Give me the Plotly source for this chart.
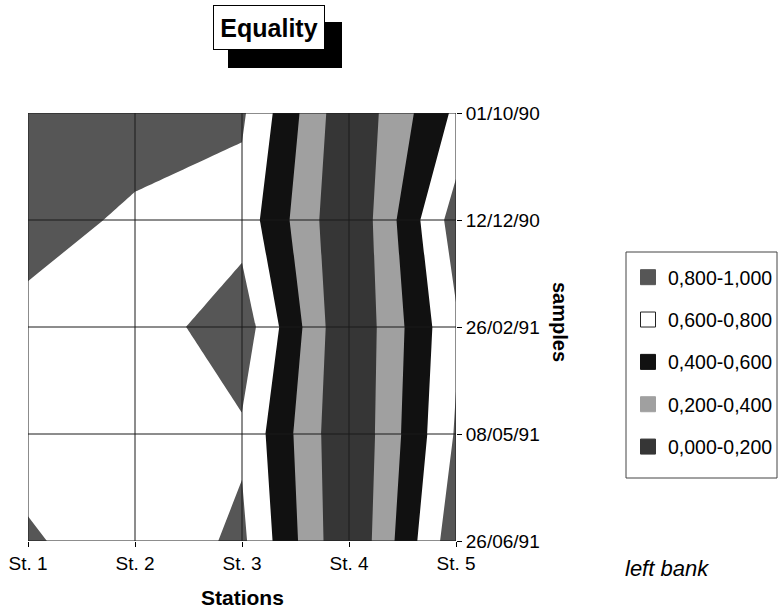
import plotly.graph_objects as go

# Sampling stations (x) and sampling dates (y, first date on top)
stations = ["St. 1", "St. 2", "St. 3", "St. 4", "St. 5"]
dates = ["01/10/90", "12/12/90", "26/02/91", "08/05/91", "26/06/91"]

# Equality index, one row per date, one column per station
eq_0110 = [0.90, 0.94, 0.83, 0.03, 0.64]
eq_1212 = [0.92, 0.75, 0.72, 0.00, 0.90]
eq_2602 = [0.71, 0.69, 0.92, 0.00, 0.77]
eq_0805 = [0.70, 0.70, 0.77, 0.00, 0.82]
eq_2606 = [0.83, 0.66, 0.84, 0.00, 0.94]

# Contour bands (low to high) and their fills
band_edges = [0.0, 0.2, 0.4, 0.6, 0.8, 1.0]
band_labels = ["0,000-0,200", "0,200-0,400", "0,400-0,600", "0,600-0,800", "0,800-1,000"]
band_colors = ["#363636", "#a0a0a0", "#111111", "#ffffff", "#565656"]

z = [eq_0110, eq_1212, eq_2602, eq_0805, eq_2606]
xs = list(range(len(stations)))
ys = list(range(len(dates)))

FONT = "Arial, Liberation Sans, sans-serif"

# plot-area box in pixels, used to place the decorations around it
W_FIG, H_FIG = 779, 609
L, R, T, B = 28, 456, 113, 541


def px(xpix):
    return (xpix - L) / (R - L)


def py(ypix):
    return (B - ypix) / (B - T)


# stepped colorscale: one flat colour per band
lo, hi = band_edges[0], band_edges[-1]
colorscale = []
for i, c in enumerate(band_colors):
    a = (band_edges[i] - lo) / (hi - lo)
    b = (band_edges[i + 1] - lo) / (hi - lo)
    colorscale += [[a, c], [b, c]]

fig = go.Figure()
fig.add_trace(go.Contour(
    x=xs, y=ys, z=z,
    zmin=lo, zmax=hi,
    colorscale=colorscale,
    autocontour=False,
    contours=dict(start=band_edges[1], end=band_edges[-2], size=0.2, coloring="fill"),
    line=dict(width=0, smoothing=0),
    showscale=False,
    hoverinfo="skip",
))

# legend entries, highest band first
for lab, col in reversed(list(zip(band_labels, band_colors))):
    fig.add_trace(go.Scatter(
        x=[None], y=[None], mode="markers", name=lab,
        legendgroup=lab,
        marker=dict(symbol="square", size=15, color=col,
                    line=dict(width=1, color="#222222" if col == "#ffffff" else col)),
    ))

shapes = []
# grid lines over the filled bands
for i in xs:
    shapes.append(dict(type="line", xref="x", yref="y", x0=i, x1=i, y0=ys[0], y1=ys[-1],
                       line=dict(color="#1a1a1a", width=1), layer="above"))
for j in ys:
    shapes.append(dict(type="line", xref="x", yref="y", x0=xs[0], x1=xs[-1], y0=j, y1=j,
                       line=dict(color="#1a1a1a", width=1), layer="above"))
# drop shadow behind the title box
shapes.append(dict(type="rect", xref="paper", yref="paper",
                   x0=px(228), x1=px(342), y0=py(22), y1=py(68),
                   fillcolor="#000000", line=dict(width=0), layer="above"))
# frame around the legend entries
shapes.append(dict(type="rect", xref="paper", yref="paper",
                   x0=px(626), x1=px(777), y0=py(252), y1=py(478),
                   fillcolor="#ffffff", line=dict(color="#444444", width=1), layer="above"))

annotations = [
    dict(text="<b>Equality</b>", xref="paper", yref="paper", x=px(269), y=py(27.5),
         xanchor="center", yanchor="middle", showarrow=False,
         font=dict(family=FONT, size=25, color="#000000"),
         bgcolor="#ffffff", bordercolor="#000000", borderwidth=1,
         width=110, height=43, borderpad=0),
    dict(text="<b>Stations</b>", xref="paper", yref="paper", x=px(242), y=py(597),
         xanchor="center", yanchor="middle", showarrow=False,
         font=dict(family=FONT, size=21, color="#000000")),
    dict(text="<b>samples</b>", xref="paper", yref="paper", x=px(560), y=py(322),
         xanchor="center", yanchor="middle", showarrow=False, textangle=90,
         font=dict(family=FONT, size=20, color="#000000")),
    dict(text="<i>left bank</i>", xref="paper", yref="paper", x=px(667), y=py(568),
         xanchor="center", yanchor="middle", showarrow=False,
         font=dict(family=FONT, size=22, color="#000000")),
]

fig.update_layout(
    width=W_FIG, height=H_FIG,
    margin=dict(l=L, r=W_FIG - R, t=T, b=H_FIG - B, pad=0),
    paper_bgcolor="#ffffff", plot_bgcolor="#ffffff",
    font=dict(family=FONT, size=19, color="#000000"),
    showlegend=True,
    legend=dict(xref="container", yref="container",
                x=628 / W_FIG, y=1 - 258 / H_FIG, xanchor="left", yanchor="top",
                bgcolor="rgba(0,0,0,0)", borderwidth=0,
                font=dict(family=FONT, size=19.5, color="#000000"),
                tracegroupgap=14, traceorder="grouped"),
    shapes=shapes,
    annotations=annotations,
    xaxis=dict(range=[xs[0], xs[-1]], tickvals=xs, ticktext=stations,
               ticks="outside", ticklen=5, tickcolor="#000000",
               showgrid=False, zeroline=False, showline=False, automargin=False,
               tickfont=dict(family=FONT, size=19)),
    yaxis=dict(range=[ys[-1], ys[0]], tickvals=ys, ticktext=dates, side="right",
               ticks="outside", ticklen=5, tickcolor="#000000",
               showgrid=False, zeroline=False, showline=False, automargin=False,
               tickfont=dict(family=FONT, size=19)),
)

fig.write_html("out.html")
